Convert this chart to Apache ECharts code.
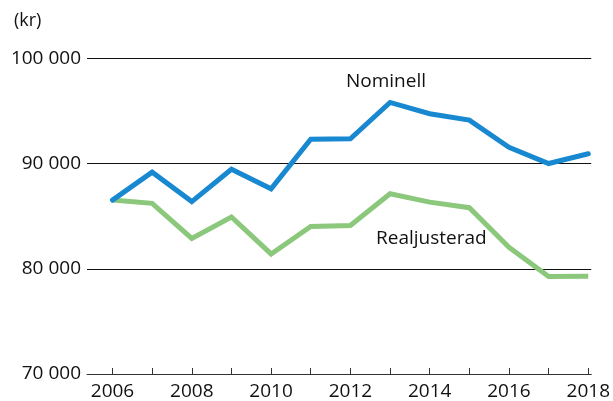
<!DOCTYPE html>
<html>
<head>
<meta charset="utf-8">
<script src="https://cdn.jsdelivr.net/npm/echarts@6/dist/echarts.min.js"></script>
<style>
  html, body { margin: 0; padding: 0; background: #fff; }
  #chart { width: 613px; height: 401px; }
</style>
</head>
<body>
<div id="chart"></div>
<script>
// data
const years = [2006, 2007, 2008, 2009, 2010, 2011, 2012, 2013, 2014, 2015, 2016, 2017, 2018];
const nominell = [86540, 89200, 86400, 89480, 87620, 92340, 92370, 95830, 94760, 94150, 91570, 90020, 90950];
const realjusterad = [86540, 86230, 82900, 84940, 81420, 84030, 84130, 87140, 86350, 85820, 82050, 79280, 79300];
const labelYears = [2006, 2008, 2010, 2012, 2014, 2016, 2018];

const font = '"Open Sans", "Noto Sans", sans-serif';

const chart = echarts.init(document.getElementById('chart'));

const option = {
  animation: false,
  textStyle: { fontFamily: font },
  grid: { left: 87, right: 18, top: 58.6, bottom: 25 },
  xAxis: {
    type: 'value',
    min: 2005.357,
    max: 2018.075,
    splitLine: { show: false },
    axisLine: { show: true, lineStyle: { color: '#333', width: 1 } },
    axisTick: {
      show: true,
      inside: true,
      length: 6,
      customValues: years,
      lineStyle: { color: '#333', width: 1 }
    },
    axisLabel: {
      customValues: labelYears,
      color: '#111',
      fontSize: 19,
      fontFamily: font,
      margin: 8,
      formatter: (v) => String(v)
    }
  },
  yAxis: {
    type: 'value',
    min: 70000,
    max: 100000,
    interval: 10000,
    axisLine: { show: false },
    axisTick: { show: false },
    splitLine: { lineStyle: { color: '#111', width: 1 } },
    axisLabel: {
      color: '#111',
      fontSize: 19,
      fontFamily: font,
      margin: 6,
      formatter: (v) => String(v).replace(/(\d)(?=(\d{3})+$)/g, '$1 ')
    }
  },
  graphic: [
    { type: 'text', left: 14, top: 12, style: { text: '(kr)', fontSize: 18, fontFamily: font, fill: '#111' } },
    { type: 'text', left: 346, top: 72, style: { text: 'Nominell', fontSize: 19, fontFamily: font, fill: '#111' } },
    { type: 'text', left: 376, top: 229, style: { text: 'Realjusterad', fontSize: 19, fontFamily: font, fill: '#111' } }
  ],
  series: [
    {
      name: 'Realjusterad',
      type: 'line',
      data: years.map((y, i) => [y, realjusterad[i]]),
      showSymbol: false,
      lineStyle: { color: '#8cc87c', width: 5, cap: 'butt', join: 'miter' }
    },
    {
      name: 'Nominell',
      type: 'line',
      data: years.map((y, i) => [y, nominell[i]]),
      showSymbol: false,
      lineStyle: { color: '#1888d0', width: 5, cap: 'round', join: 'miter' }
    }
  ]
};

chart.setOption(option);
</script>
</body>
</html>
